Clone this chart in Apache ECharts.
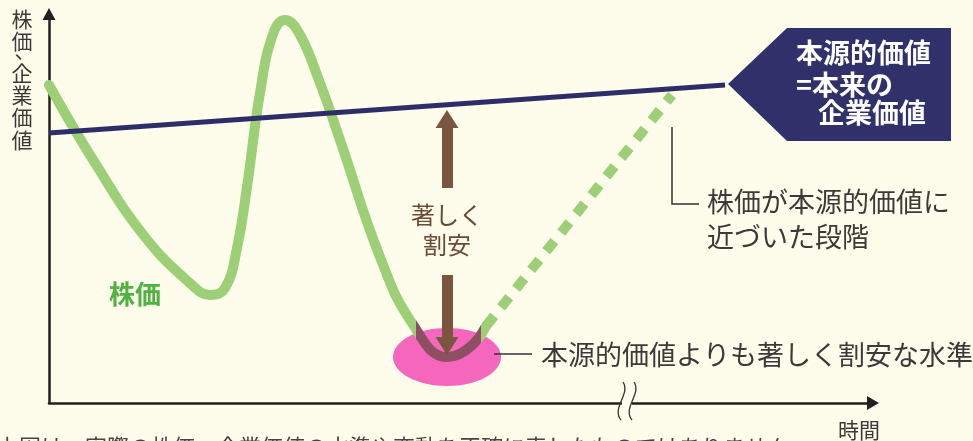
<!DOCTYPE html>
<html>
<head>
<meta charset="utf-8">
<script src="https://cdn.jsdelivr.net/npm/echarts@6/dist/echarts.min.js"></script>
<style>
  html, body { margin: 0; padding: 0; background: #fefcea; }
  #main { width: 973px; height: 441px; }
</style>
</head>
<body>
<div id="main"></div>
<script>
// 株価の推移（時間, 水準）
const stockSolid = [
    [0, 318], [46, 240], [96, 166], [143, 118], [161, 108], [176, 115],
    [188, 155], [198, 216], [211, 310], [224, 369], [236, 383], [250, 370],
    [271, 320], [291, 263], [331, 146], [363, 80], [398, 46], [421, 56], [437, 77]
];
// 本源的価値に近づく段階（点線）
const stockDashed = [[437, 77], [623, 308]];
// 本源的価値
const intrinsicValue = [[0, 270], [676, 318]];
// 割安の矢印
const arrowUp = [[398, 215], [398, 284]];
const arrowDown = [[398, 128], [398, 57]];
// 割安な水準の位置
const cheapPoint = [[398, 46]];

const FONT = '"Noto Sans CJK JP", "Noto Sans", sans-serif';
const TEXT = '#3a3a3a';
const GREEN = '#9dcf77';
const MAUVE = '#8f4f62';
const NAVY = '#2d2e69';
const BROWN = '#7a5641';
const BG = '#fefcea';

const chart = echarts.init(document.getElementById('main'));

// 楕円の中だけ株価の線を濃くする
const inL = 416 / 973, inR = 481 / 973;
const stockColor = {
    type: 'linear', x: 0, y: 0, x2: 973, y2: 0, global: true,
    colorStops: [
        { offset: 0, color: GREEN }, { offset: inL, color: GREEN },
        { offset: inL, color: MAUVE }, { offset: inR, color: MAUVE },
        { offset: inR, color: GREEN }, { offset: 1, color: GREEN }
    ]
};

// 縦軸ラベル（一文字ずつ縦に並べる）
const yName = [['株', 22, 19], ['価', 22, 41], ['、', 25, 50], ['企', 22, 73], ['業', 22, 95], ['価', 22, 117], ['値', 22, 140]];
const yNameEls = yName.map(function (c) {
    return { type: 'text', z: 10, style: { text: c[0], x: c[1], y: c[2], align: 'center', verticalAlign: 'middle',
        font: '21px ' + FONT, fill: TEXT } };
});

const option = {
    backgroundColor: BG,
    animation: false,
    grid: { left: 49, right: 100, top: 14, bottom: 38 },
    xAxis: {
        type: 'value', min: 0, max: 824,
        axisLine: { show: true, symbol: ['none', 'triangle'], symbolSize: [14, 12],
            lineStyle: { color: '#231f20', width: 2.5 } },
        axisTick: { show: false }, axisLabel: { show: false }, splitLine: { show: false }
    },
    yAxis: {
        type: 'value', min: 0, max: 389,
        axisLine: { show: true, symbol: ['none', 'triangle'], symbolSize: [13, 12],
            lineStyle: { color: '#231f20', width: 2.5 } },
        axisTick: { show: false }, axisLabel: { show: false }, splitLine: { show: false }
    },
    series: [
        {
            type: 'custom', data: cheapPoint, z: 1, silent: true,
            renderItem: function (params, api) {
                const c = api.coord([api.value(0), api.value(1)]);
                return {
                    type: 'ellipse',
                    shape: { cx: c[0], cy: c[1], rx: 54, ry: 29 },
                    style: { fill: '#f467bd' }
                };
            }
        },
        {
            type: 'line', data: stockSolid, smooth: 0.45, symbol: 'none', z: 2,
            lineStyle: { color: stockColor, width: 10, cap: 'round', join: 'round' }
        },
        {
            type: 'line', data: stockDashed, symbol: 'none', z: 2,
            lineStyle: { color: GREEN, width: 10, type: [13, 11] }
        },
        {
            type: 'line', data: intrinsicValue, symbol: 'none', z: 4,
            lineStyle: { color: NAVY, width: 5 }
        },
        {
            type: 'line', data: [], z: 5,
            markLine: {
                silent: true, animation: false,
                symbol: ['none', 'triangle'], symbolSize: [23, 18],
                label: { show: false },
                lineStyle: { color: BROWN, width: 11, type: 'solid' },
                emphasis: { disabled: true },
                data: [
                    [{ coord: arrowUp[0] }, { coord: arrowUp[1] }],
                    [{ coord: arrowDown[0] }, { coord: arrowDown[1] }]
                ]
            }
        }
    ],
    graphic: yNameEls.concat([
        // 横軸ラベル
        { type: 'text', z: 10, style: { text: '時間', x: 859, y: 430, align: 'center', verticalAlign: 'middle',
            font: '21px ' + FONT, fill: TEXT } },
        // 省略記号
        { type: 'rect', z: 10, shape: { x: 622, y: 399, width: 10, height: 8 }, style: { fill: BG } },
        { type: 'bezierCurve', z: 11,
            shape: { x1: 623, y1: 382, cpx1: 631, cpy1: 394, cpx2: 611, cpy2: 408, x2: 621, y2: 420 },
            style: { stroke: '#333', lineWidth: 1.3, fill: null } },
        { type: 'bezierCurve', z: 11,
            shape: { x1: 634, y1: 382, cpx1: 642, cpy1: 394, cpx2: 622, cpy2: 408, x2: 632, y2: 420 },
            style: { stroke: '#333', lineWidth: 1.3, fill: null } },
        // 株価ラベル
        { type: 'text', z: 10, style: { text: '株価', x: 109, y: 294, verticalAlign: 'middle',
            font: 'bold 26px ' + FONT, fill: '#4fb342' } },
        // 著しく割安
        { type: 'text', z: 10, style: { text: '著しく', x: 447, y: 215, align: 'center', verticalAlign: 'middle',
            font: '24px ' + FONT, fill: '#6a4a36' } },
        { type: 'text', z: 10, style: { text: '割安', x: 447, y: 245, align: 'center', verticalAlign: 'middle',
            font: '24px ' + FONT, fill: '#6a4a36' } },
        // 割安な水準の説明
        { type: 'line', z: 10, shape: { x1: 494, y1: 354, x2: 532, y2: 354 }, style: { stroke: '#333', lineWidth: 1.5 } },
        { type: 'text', z: 10, style: { text: '本源的価値よりも著しく割安な水準', x: 541, y: 355, verticalAlign: 'middle',
            font: '27px ' + FONT, fill: TEXT } },
        // 本源的価値に近づいた段階
        { type: 'polyline', z: 10, shape: { points: [[672, 127], [672, 204], [699, 204]] },
            style: { stroke: '#333', lineWidth: 1.5, fill: null } },
        { type: 'text', z: 10, style: { text: '株価が本源的価値に', x: 707, y: 202, verticalAlign: 'middle',
            font: '27px ' + FONT, fill: TEXT } },
        { type: 'text', z: 10, style: { text: '近づいた段階', x: 707, y: 237, verticalAlign: 'middle',
            font: '27px ' + FONT, fill: TEXT } },
        // 本源的価値の吹き出し
        { type: 'polygon', z: 10, shape: { points: [[728, 84], [787, 28], [951, 28], [951, 141], [787, 141]] },
            style: { fill: '#30316a' } },
        { type: 'text', z: 11, style: { text: '本源的価値', x: 796, y: 53, verticalAlign: 'middle',
            font: 'bold 27px ' + FONT, fill: '#ffffff' } },
        { type: 'text', z: 11, style: { text: '=本来の', x: 796, y: 85, verticalAlign: 'middle',
            font: 'bold 27px ' + FONT, fill: '#ffffff' } },
        { type: 'text', z: 11, style: { text: '企業価値', x: 818, y: 113, verticalAlign: 'middle',
            font: 'bold 27px ' + FONT, fill: '#ffffff' } },
        // 注記（下端で切れている）
        { type: 'text', z: 10, style: { text: '上図は、実際の株価・企業価値の水準や変動を正確に表したものではありません。',
            x: -3, y: 436, font: '22px ' + FONT, fill: '#444' } }
    ])
};

chart.setOption(option);
window.addEventListener('resize', chart.resize);
</script>
</body>
</html>
